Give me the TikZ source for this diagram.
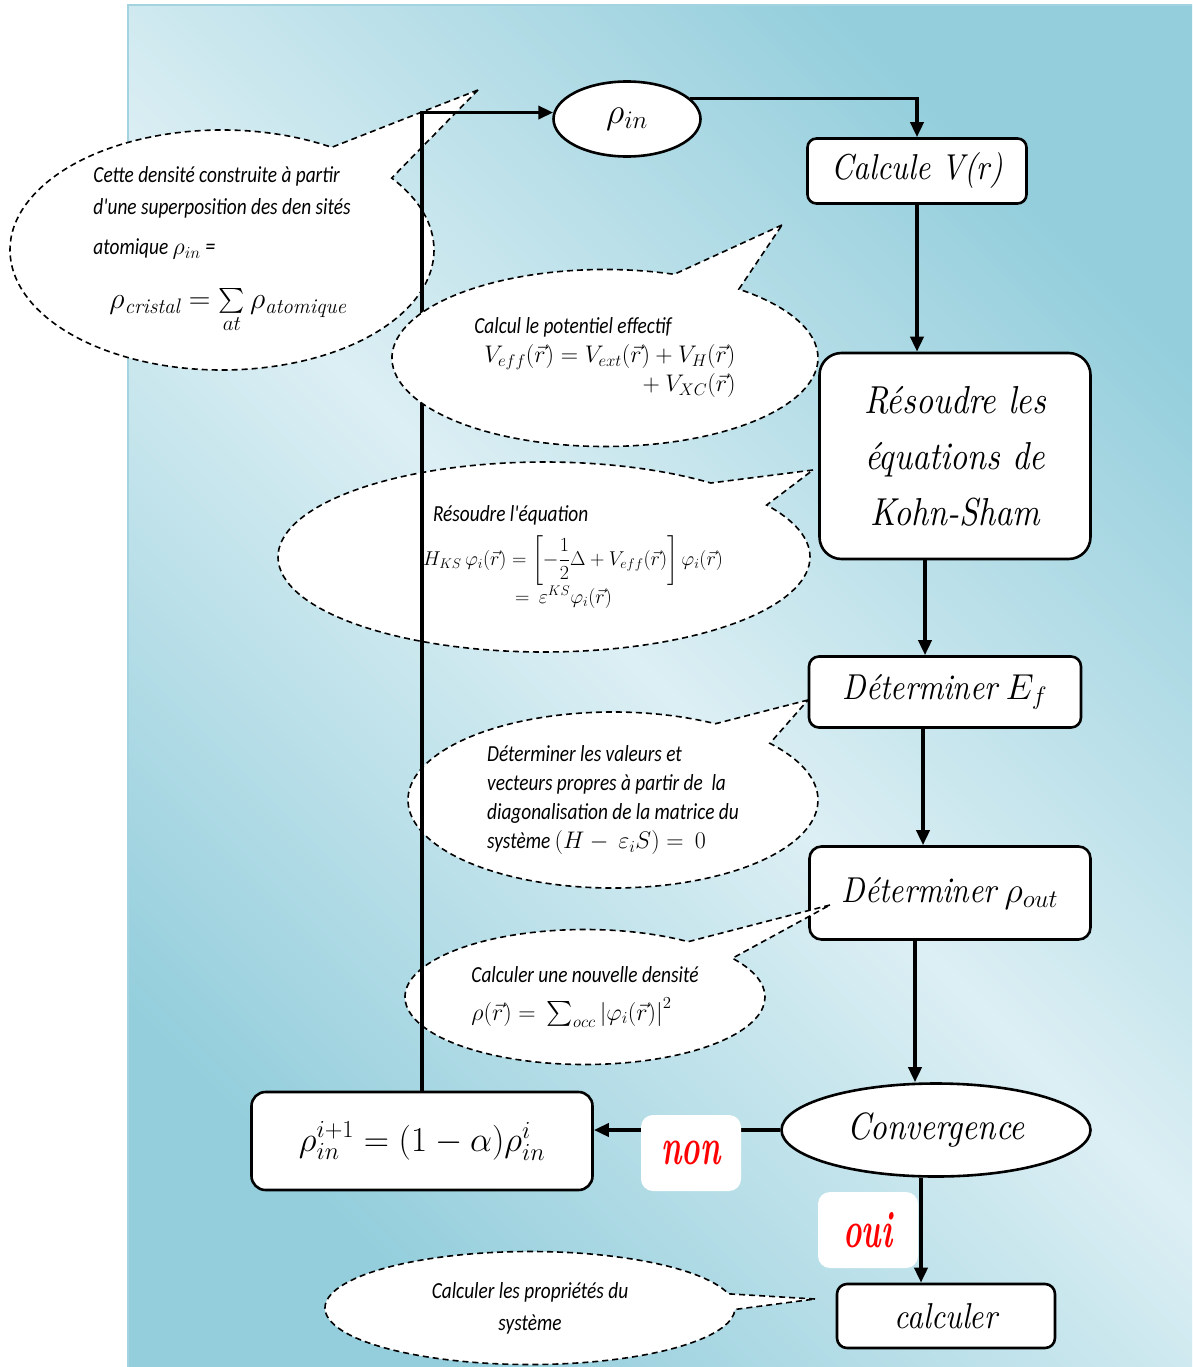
\documentclass[tikz,border=0pt]{standalone}
\usepackage{fix-cm}
\usepackage{amsmath}
\usepackage{fontspec}
\usetikzlibrary{arrows.meta,shapes.geometric,shapes.callouts}

\newfontfamily\bubfont{Carlito}[FakeStretch=0.84]
\newfontfamily\boxfont{lmroman10-italic.otf}[FakeStretch=0.86]
\newfontfamily\labfont{lmroman10-bolditalic.otf}[FakeStretch=0.6]
\newcommand\eqsize{\fontsize{24}{30}\selectfont}
\newcommand\eqsizeb{\fontsize{20}{26}\selectfont}
\newcommand\eqsizec{\fontsize{30}{34}\selectfont}

\definecolor{bgdark}{HTML}{94CEDC}
\definecolor{bglight}{HTML}{DCEFF4}
\definecolor{bgedge}{HTML}{A3D3DE}

\begin{document}
\begin{tikzpicture}[x=1pt, y=-1pt,
    proc/.style={
      draw=black,
      line width=2.6pt,
      fill=white,
      rounded corners=10pt,
      inner sep=0pt,
      font=\boxfont\fontsize{36}{42}\selectfont
    },
    term/.style={
      ellipse,
      draw=black,
      line width=2.6pt,
      fill=white,
      inner sep=0pt
    },
    bubble/.style={
      ellipse callout,
      draw=black,
      fill=white,
      line width=1.6pt,
      dash pattern=on 6pt off 4pt,
      inner sep=0pt,
      align=left,
      font=\bubfont\itshape\fontsize{23}{29}\selectfont
    },
    answer/.style={
      fill=white,
      rounded corners=12pt,
      minimum width=100pt,
      minimum height=76pt,
      text=red,
      font=\labfont\fontsize{52}{52}\selectfont
    },
    flow/.style={
      -{Triangle[length=15pt,width=13pt]},
      line width=3.6pt
    }
  ]
    \useasboundingbox (0,0) rectangle (1192,1367);
    \fill[white] (0,0) rectangle (1192,1367);
    \shade[top color=bgdark, bottom color=bgdark, middle color=bglight, shading angle=-45]
      (128,5) rectangle (1192,1367);
    \draw[bgedge, line width=1.5pt] (1192,5) -- (128,5) -- (128,1367);

    % steps of the cycle
    \node[term, minimum width=147pt, minimum height=75pt, font=\fontsize{36}{40}\selectfont] (rhoin) at (627,119) {$\rho_{in}$};
    \node[proc, minimum width=219pt, minimum height=65pt, rounded corners=9pt] (calcv) at (917,171) {Calcule V(r)};
    \node[proc, minimum width=271pt, minimum height=206pt, rounded corners=22pt, align=center,
      font=\boxfont\fontsize{39}{56}\selectfont] (ks) at (955,456) {Résoudre les\\ équations de\\ Kohn-Sham};
    \node[proc, minimum width=272pt, minimum height=71pt] (ef) at (945,692) {Déterminer\hspace{8pt}$E_f$};
    \node[proc, minimum width=281pt, minimum height=93pt, rounded corners=12pt] (rhoout) at (950,893) {Déterminer\hspace{8pt}$\rho_{out}$};
    \node[term, minimum width=309pt, minimum height=93pt, font=\boxfont\fontsize{38}{42}\selectfont] (conv) at (936,1130) {Convergence};
    \node[proc, minimum width=341pt, minimum height=98pt, rounded corners=14pt, font=\fontsize{35}{40}\selectfont] (mix) at (422,1141) {$\rho_{in}^{i+1} = (1-\alpha)\rho_{in}^{i}$};
    \node[proc, minimum width=218pt, minimum height=64pt] (calc) at (946,1316) {calculer};

    % comments
    \node[bubble, minimum width=424pt, minimum height=240pt, callout absolute pointer={(478,90)}, callout pointer arc=22,
      font=\bubfont\itshape\fontsize{23}{32}\selectfont] (b1) at (222,250)
      {Cette densité construite à partir\\
       d'une superposition des den sités\\[8pt]
       atomique {\eqsize$\rho_{in}$ =}\\[22pt]
       \hspace*{16pt}{\eqsizec$\rho_{\mathit{cristal}} = \sum\limits_{at}\rho_{\mathit{atomique}}$}};
    \node[bubble, minimum width=532pt, minimum height=190pt, callout absolute pointer={(813,470)}, callout pointer arc=18] (b3) at (544,557)
      {\hspace*{68pt}Résoudre l'équation\\[9pt]
       \hspace*{58pt}{\eqsizeb$H_{KS}\,\varphi_i(\vec{r}) = \left[-\dfrac{1}{2}\Delta + V_{eff}(\vec{r})\right]\varphi_i(\vec{r})$}\\
       \hspace*{150pt}{\eqsizeb$=\ \varepsilon^{KS}\varphi_i(\vec{r})$}};
    \node[bubble, minimum width=410pt, minimum height=176pt, callout absolute pointer={(808,700)}, callout pointer arc=20] (b4) at (613,800)
      {Déterminer les valeurs et\\
       vecteurs propres à partir de\ \ la\\
       diagonalisation de la matrice du\\
       système {\eqsize$(H -\ \varepsilon_i S) =\ 0$}};
    \node[bubble, minimum width=360pt, minimum height=135pt, callout absolute pointer={(830,905)}, callout pointer arc=20] (b5) at (585,997)
      {Calculer une nouvelle densité\\[9pt]
       {\eqsize$\rho(\vec{r}) =\ \sum_{occ} \left|\varphi_i(\vec{r})\right|^2$}};
    \node[bubble, minimum width=410pt, minimum height=113pt, callout absolute pointer={(815,1299)}, callout pointer arc=16, align=center,
      font=\bubfont\itshape\fontsize{23}{32}\selectfont] (b6) at (530,1308)
      {Calculer les propriétés du\\ système};

    % connectors
    \draw[flow] (rhoin.18) -| (calcv.north);
    \draw[flow] (calcv.south) -- (calcv.south |- ks.north);
    \draw[flow] ([xshift=-30pt]ks.south) -- ([xshift=-30pt]ks.south |- ef.north);
    \draw[flow] ([xshift=-22pt]ef.south) -- ([xshift=-22pt]ef.south |- rhoout.north);
    \draw[flow] ([xshift=-35pt]rhoout.south) -- ([xshift=-35pt]rhoout.south |- conv.north);
    \draw[flow] (conv.west) -- (conv.west -| mix.east);
    \draw[flow] ([xshift=-15pt]conv.south) -- ([xshift=-15pt]conv.south |- calc.north);
    \draw[flow] (mix.north) |- (rhoin.175);

    \node[answer] (non) at (691,1153) {non};
    \node[answer] (oui) at (868,1230) {oui};

    \node[bubble, minimum width=426pt, minimum height=177pt, callout absolute pointer={(782,225)}, callout pointer arc=20] (b2) at (605,358)
      {Calcul le potentiel effectif\\
       \hspace*{10pt}{\eqsize$V_{eff}(\vec{r}) = V_{ext}(\vec{r}) + V_{H}(\vec{r})$}\\
       \hspace*{163pt}{\eqsize${}+V_{XC}(\vec{r})$}};
  \end{tikzpicture}
\end{document}
